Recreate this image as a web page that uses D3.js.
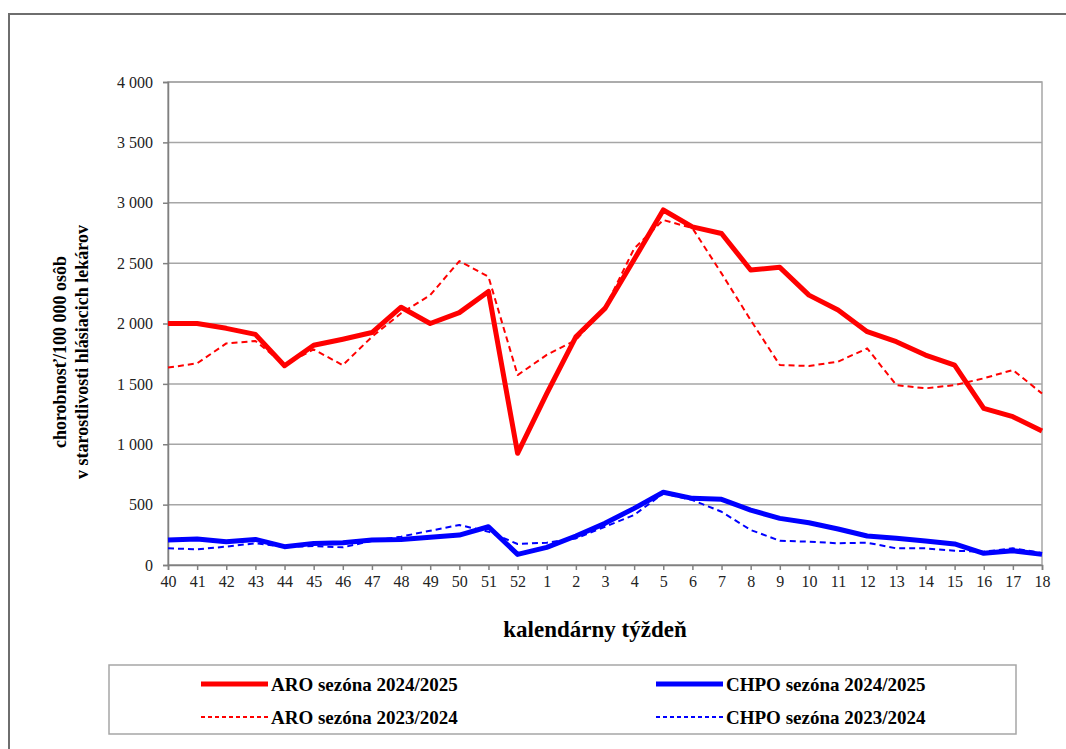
<!DOCTYPE html>
<head>
    <meta charset="utf-8" />
    <script src="https://d3js.org/d3.v7.min.js"></script>
</head>
<style>
    body { margin: 0; background: #fff; }
    text { font-family: "Liberation Serif", "Times New Roman", serif; }
</style>
<body>
</body>
<script>
// kalendarne tyzdne
var weeks = [40,41,42,43,44,45,46,47,48,49,50,51,52,1,2,3,4,5,6,7,8,9,10,11,12,13,14,15,16,17,18];

var aro2425 = [2000,2000,1960,1910,1650,1820,1870,1925,2135,2000,2090,2265,925,1420,1890,2125,2530,2940,2800,2745,2443,2465,2235,2111,1932,1849,1739,1656,1297,1228,1110];
var aro2324 = [1635,1670,1835,1855,1660,1785,1655,1890,2085,2235,2517,2387,1573,1740,1863,2130,2620,2857,2790,2415,2028,1656,1648,1684,1794,1490,1463,1490,1546,1615,1420];
var chpo2425 = [207,215,193,212,152,179,185,207,212,229,248,317,88,146,240,345,469,602,552,544,455,386,350,298,240,221,199,174,97,118,88];
var chpo2324 = [138,130,152,180,149,157,146,200,235,284,331,276,174,185,220,317,414,593,538,441,290,201,193,180,185,138,138,118,110,138,100];

var yTicks = [0,500,1000,1500,2000,2500,3000,3500,4000];

var series = [
    {name: "ARO sezóna 2024/2025", values: aro2425, color: "#ff0000", width: 5, dash: null},
    {name: "ARO sezóna 2023/2024", values: aro2324, color: "#ff0000", width: 2, dash: "6,4"},
    {name: "CHPO sezóna 2024/2025", values: chpo2425, color: "#0000ff", width: 5, dash: null},
    {name: "CHPO sezóna 2023/2024", values: chpo2324, color: "#0000ff", width: 2, dash: "6,4"}
];

var W = 1066, H = 749;
var pLeft = 168, pRight = 1042, pTop = 82, pBottom = 565;

var svg = d3.select("body").append("svg")
    .attr("width", W)
    .attr("height", H);

// vonkajsi ramik
svg.append("rect")
    .attr("x", 9).attr("y", 14)
    .attr("width", 1100).attr("height", 800)
    .attr("fill", "none")
    .attr("stroke", "#6e6e6e")
    .attr("stroke-width", 2);

var x = d3.scalePoint()
    .domain(weeks.map(function (d, i) { return i; }))
    .range([pLeft, pRight]);

var y = d3.scaleLinear()
    .domain([0, 4000])
    .range([pBottom, pTop]);

var fmt = function (v) { return d3.format(",")(v).replace(/,/g, " "); };

// mriezka
svg.append("g")
    .selectAll("line")
    .data(yTicks)
    .enter()
    .append("line")
        .attr("x1", pLeft).attr("x2", pRight)
        .attr("y1", function (d) { return y(d); })
        .attr("y2", function (d) { return y(d); })
        .attr("stroke", "#a6a6a6")
        .attr("stroke-width", 1.5);

svg.append("rect")
    .attr("x", pLeft).attr("y", pTop)
    .attr("width", pRight - pLeft).attr("height", pBottom - pTop)
    .attr("fill", "none")
    .attr("stroke", "#a6a6a6")
    .attr("stroke-width", 1.5);

// os y
var yAxis = svg.append("g")
    .attr("transform", "translate(" + pLeft + ",0)")
    .call(d3.axisLeft(y).tickValues(yTicks).tickFormat(fmt).tickSize(5).tickPadding(10));
yAxis.select(".domain").attr("stroke", "#808080").attr("stroke-width", 1.5);
yAxis.selectAll(".tick line").attr("stroke", "#808080").attr("stroke-width", 1.5);
yAxis.selectAll("text")
    .style("font-family", "Liberation Serif")
    .style("font-size", "16px")
    .attr("fill", "#222");

// os x
var xAxis = svg.append("g")
    .attr("transform", "translate(0," + pBottom + ")")
    .call(d3.axisBottom(x).tickFormat(function (i) { return weeks[i]; }).tickSize(5).tickPadding(6));
xAxis.select(".domain").attr("stroke", "#808080").attr("stroke-width", 1.5);
xAxis.selectAll(".tick line").attr("stroke", "#808080").attr("stroke-width", 1.5);
xAxis.selectAll("text")
    .style("font-family", "Liberation Serif")
    .style("font-size", "16px")
    .attr("fill", "#222");

// ciary
var line = d3.line()
    .x(function (d, i) { return x(i); })
    .y(function (d) { return y(d); });

// najprv prerusovane, potom plne
[1, 3, 0, 2].forEach(function (k) {
    var s = series[k];
    svg.append("path")
        .datum(s.values)
        .attr("d", line)
        .attr("fill", "none")
        .attr("stroke", s.color)
        .attr("stroke-width", s.width)
        .attr("stroke-linejoin", "round")
        .attr("stroke-dasharray", s.dash);
});

// popisy osi
svg.append("text")
    .attr("x", 595).attr("y", 637)
    .attr("text-anchor", "middle")
    .style("font-size", "23px")
    .style("font-weight", "bold")
    .text("kalendárny týždeň");

var yl = svg.append("text")
    .attr("transform", "translate(66,352) rotate(-90)")
    .attr("text-anchor", "middle")
    .style("font-size", "18px")
    .style("font-weight", "bold");
yl.append("tspan").attr("x", 0).attr("dy", 0).text("chorobnosť/100 000 osôb");
yl.append("tspan").attr("x", 0).attr("dy", 22).text("v starostlivosti hlásiacich lekárov");

// legenda
svg.append("rect")
    .attr("x", 109).attr("y", 665)
    .attr("width", 907).attr("height", 69)
    .attr("fill", "none")
    .attr("stroke", "#a6a6a6")
    .attr("stroke-width", 1.5);

var legPos = [
    {x: 201, y: 684}, {x: 201, y: 717},
    {x: 656, y: 684}, {x: 656, y: 717}
];

var leg = svg.append("g").selectAll("g")
    .data(series)
    .enter()
    .append("g")
    .attr("transform", function (d, i) { return "translate(" + legPos[i].x + "," + legPos[i].y + ")"; });

leg.append("line")
    .attr("x1", 0).attr("x2", 67)
    .attr("stroke", function (d) { return d.color; })
    .attr("stroke-width", function (d) { return d.width; })
    .attr("stroke-dasharray", function (d) { return d.dash ? "4,3" : null; });

leg.append("text")
    .attr("x", 70).attr("dy", "0.35em")
    .style("font-size", "19px")
    .style("font-weight", "bold")
    .text(function (d) { return d.name; });
</script>
